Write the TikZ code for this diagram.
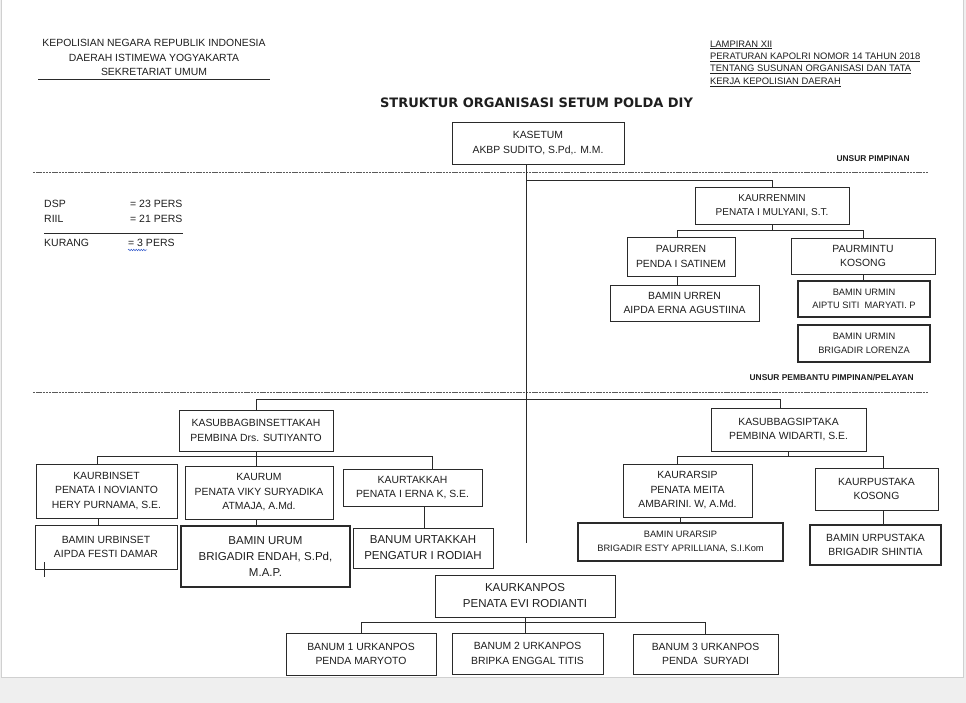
\documentclass[tikz,border=0pt]{standalone}
\usepackage{fontspec}
\setmainfont{Liberation Sans}
\newfontfamily\titlefont{DejaVu Sans}
\usetikzlibrary{decorations.pathmorphing}
\definecolor{inkc}{HTML}{1E1E1E}
\definecolor{edgec}{HTML}{2A2A2A}
\definecolor{pagec}{HTML}{EFEFEF}
\definecolor{rimc}{HTML}{D0D0D0}
\definecolor{dashc}{HTML}{5A5A5A}
\definecolor{spellc}{HTML}{3A5FCD}

\tikzset{
  unit/.style={draw=edgec,line width=0.9pt,inner sep=1pt,align=center,text=inkc,
    font=\fontsize{10.4}{14.5}\selectfont},
  unitbold/.style={unit,line width=2.3pt},
  smalltext/.style={font=\fontsize{9.3}{13.5}\selectfont},
  bigtext/.style={font=\fontsize{11.5}{16}\selectfont},
  link/.style={draw=edgec,line width=0.8pt},
  divider/.style={draw=dashc,line width=0.6pt,dash pattern=on 2.4pt off 0.8pt},
  plain/.style={text=inkc,inner sep=0pt},
  unsur/.style={plain,anchor=east,font=\fontsize{8.4}{9}\selectfont\bfseries},
}

\begin{document}
\begin{tikzpicture}[x=1pt,y=-1pt]
\useasboundingbox (0,0) rectangle (966,703);
% page
\fill[pagec] (0,0) rectangle (966,703);
\fill[white] (2,0) rectangle (963,677);
\draw[rimc,line width=0.8pt] (1.5,0) -- (1.5,677.5) -- (963.5,677.5) -- (963.5,0);

% kop surat
\node[plain,align=center,font=\fontsize{10.4}{14.5}\selectfont] (kop) at (154,57.5)
  {KEPOLISIAN NEGARA REPUBLIK INDONESIA\\DAERAH ISTIMEWA YOGYAKARTA\\SEKRETARIAT UMUM};
\draw[edgec,line width=1pt] (38,80) -- (270,80);
\node[plain,align=left,anchor=west,font=\fontsize{9.4}{12.4}\selectfont] (lampiran) at (710,63.5)
  {\underline{LAMPIRAN XII}\\\underline{PERATURAN KAPOLRI NOMOR 14 TAHUN 2018}\\
   \underline{TENTANG SUSUNAN ORGANISASI DAN TATA}\\\underline{KERJA KEPOLISIAN DAERAH}};
\node[plain,font=\titlefont\bfseries\fontsize{13}{14}\selectfont] (judul) at (536.5,103)
  {STRUKTUR ORGANISASI SETUM POLDA DIY};

% garis unsur
\draw[divider] (33,172) -- (928,172);
\draw[divider] (33,392) -- (928,392);
\node[unsur] (pimpinan) at (910,159) {UNSUR PIMPINAN};
\node[unsur] (pembantu) at (914,378) {UNSUR PEMBANTU PIMPINAN/PELAYAN};

% DSP / RIIL
\node[plain,anchor=west,font=\fontsize{10.5}{12}\selectfont] (dsp) at (44,204) {DSP};
\node[plain,anchor=west,font=\fontsize{10.5}{12}\selectfont] (dspn) at (130,204) {= 23 PERS};
\node[plain,anchor=west,font=\fontsize{10.5}{12}\selectfont] (riil) at (44,219) {RIIL};
\node[plain,anchor=west,font=\fontsize{10.5}{12}\selectfont] (riiln) at (130,219) {= 21 PERS};
\draw[edgec,line width=0.9pt] (44,233) -- (183,233);
\node[plain,anchor=west,font=\fontsize{10.5}{12}\selectfont] (kurang) at (44,243) {KURANG};
\node[plain,anchor=west,font=\fontsize{10.5}{12}\selectfont] (kurangn) at (128,243) {= 3 PERS};
\draw[spellc,line width=0.5pt,decorate,decoration={snake,amplitude=0.8pt,segment length=2.5pt}]
  (128,250) -- (147,250);

% pimpinan
\node[unit,minimum width=172pt,minimum height=42pt] (kasetum) at (538,143)
  {KASETUM\\AKBP SUDITO, S.Pd,. M.M.};
\coordinate (trunk) at (526,543);
\draw[link] (kasetum.south -| trunk) -- (trunk);

% urusan renmin
\node[unit,minimum width=154pt,minimum height=37pt,font=\fontsize{10}{14}\selectfont] (kaurrenmin) at (772,205.5)
  {KAURRENMIN\\PENATA I MULYANI, S.T.};
\node[unit,minimum width=108pt,minimum height=39pt] (paurren) at (681,256.5)
  {PAURREN\\PENDA I SATINEM};
\node[unit,minimum width=144pt,minimum height=36pt] (paurmintu) at (863,256)
  {PAURMINTU\\KOSONG};
\node[unit,minimum width=149pt,minimum height=36pt] (baminurren) at (684.5,303)
  {BAMIN URREN\\AIPDA ERNA AGUSTIINA};
\node[unitbold,smalltext,minimum width=132pt,minimum height=36pt] (baminurmin) at (864,299)
  {BAMIN URMIN\\AIPTU SITI\ \ MARYATI. P};
\node[unitbold,smalltext,minimum width=132pt,minimum height=37pt] (baminurmindua) at (864,343.5)
  {BAMIN URMIN\\BRIGADIR LORENZA};
\draw[link] (trunk |- 0,180) -| (kaurrenmin.north);
\draw[link] (kaurrenmin.south) -- ++(0,6) coordinate (renmin);
\draw[link] ([xshift=-4pt]paurren.north) |- (renmin) -| (paurmintu.north);
\draw[link] ([xshift=-4pt]paurren.south) -- ([xshift=-4pt]paurren.south |- baminurren.north);
\draw[link] (paurmintu.south) -- (paurmintu.south |- baminurmin.north);

% subbag binsettakah
\node[unit,minimum width=154pt,minimum height=41pt] (kasubbagbin) at (256,430.5)
  {KASUBBAGBINSETTAKAH\\PEMBINA Drs. SUTIYANTO};
\node[unit,minimum width=141pt,minimum height=54pt] (kaurbinset) at (106.5,491)
  {KAURBINSET\\PENATA I NOVIANTO\\HERY PURNAMA, S.E.};
\node[unit,minimum width=148pt,minimum height=53pt] (kaurum) at (259,492.5)
  {KAURUM\\PENATA VIKY SURYADIKA\\ATMAJA, A.Md.};
\node[unit,minimum width=139pt,minimum height=37pt] (kaurtakkah) at (412.5,487.5)
  {KAURTAKKAH\\PENATA I ERNA K, S.E.};
\node[unit,minimum width=142pt,minimum height=44pt] (baminurbinset) at (106,547)
  {BAMIN URBINSET\\AIPDA FESTI DAMAR};
\node[unitbold,bigtext,minimum width=169pt,minimum height=61pt,line width=1.6pt] (baminurum) at (265.5,556.5)
  {BAMIN URUM\\BRIGADIR ENDAH, S.Pd,\\M.A.P.};
\node[unit,bigtext,minimum width=140pt,minimum height=40pt] (banumurtakkah) at (423,548)
  {BANUM URTAKKAH\\PENGATUR I RODIAH};
\draw[edgec,line width=0.8pt] (44,562) -- (44,577);

% subbag siptaka
\node[unit,minimum width=155pt,minimum height=43pt] (kasubbagsip) at (788.5,429.5)
  {KASUBBAGSIPTAKA\\PEMBINA WIDARTI, S.E.};
\node[unit,minimum width=129pt,minimum height=53pt] (kaurarsip) at (687.5,490.5)
  {KAURARSIP\\PENATA MEITA\\AMBARINI. W, A.Md.};
\node[unit,minimum width=123pt,minimum height=42pt] (kaurpustaka) at (876.5,489)
  {KAURPUSTAKA\\KOSONG};
\node[unitbold,smalltext,minimum width=205pt,minimum height=38pt] (baminurarsip) at (680.5,542)
  {BAMIN URARSIP\\BRIGADIR ESTY APRILLIANA, S.I.Kom};
\node[unitbold,minimum width=131pt,minimum height=40pt] (baminurpustaka) at (875.5,545)
  {BAMIN URPUSTAKA\\BRIGADIR SHINTIA};

\draw[link] (kasubbagbin.north) -- ++(0,-10) -| ([xshift=-8pt]kasubbagsip.north);
\draw[link] (kasubbagbin.south) -- ++(0,5) coordinate (binset);
\draw[link] ([xshift=-9.5pt]kaurbinset.north) |- (binset) -| ([xshift=19.5pt]kaurtakkah.north);
\draw[link] (binset) -- (binset |- kaurum.north);
\draw[link] ([xshift=-8.5pt]kaurbinset.south) -- ([xshift=-8.5pt]kaurbinset.south |- baminurbinset.north);
\draw[link] ([xshift=-3pt]kaurum.south) -- ([xshift=-3pt]kaurum.south |- baminurum.north);
\draw[link] ([xshift=11.5pt]kaurtakkah.south) -- ([xshift=11.5pt]kaurtakkah.south |- banumurtakkah.north);
\draw[link] (kasubbagsip.south) -- ++(0,5) coordinate (siptaka);
\draw[link] ([xshift=-10.5pt]kaurarsip.north) |- (siptaka) -| ([xshift=6.5pt]kaurpustaka.north);
\draw[link] (baminurarsip.north) -- (baminurarsip.north |- kaurarsip.south);
\draw[link] ([xshift=6.5pt]kaurpustaka.south) -- ([xshift=6.5pt]kaurpustaka.south |- baminurpustaka.north);

% urusan kanpos
\node[unit,bigtext,minimum width=180pt,minimum height=42pt] (kaurkanpos) at (525,596)
  {KAURKANPOS\\PENATA EVI RODIANTI};
\node[unit,minimum width=150pt,minimum height=42pt] (banumsatu) at (361,654)
  {BANUM 1 URKANPOS\\PENDA MARYOTO};
\node[unit,minimum width=151pt,minimum height=41pt] (banumdua) at (527.5,653.5)
  {BANUM 2 URKANPOS\\BRIPKA ENGGAL TITIS};
\node[unit,minimum width=145pt,minimum height=40pt] (banumtiga) at (705.5,654)
  {BANUM 3 URKANPOS\\PENDA\ \ SURYADI};
\draw[link] (kaurkanpos.south) -- ++(0,5) coordinate (kanpos);
\draw[link] (banumsatu.north) |- (kanpos) -| (banumtiga.north);
\draw[link] (kanpos) -- (kanpos |- banumdua.north);
\end{tikzpicture}
\end{document}
